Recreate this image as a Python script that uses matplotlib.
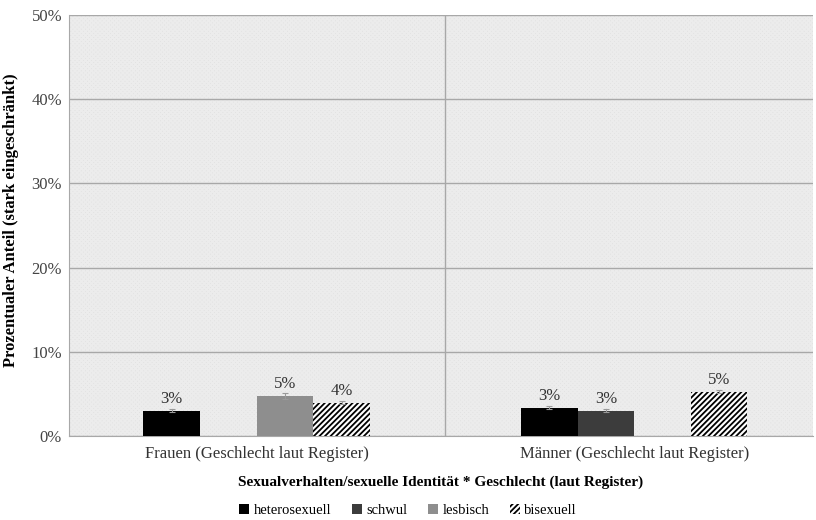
import numpy as np
import matplotlib as mpl
mpl.use('Agg')
from matplotlib import pyplot as plt
from matplotlib.patches import Rectangle

plt.rcParams['font.family'] = ['Liberation Serif', 'DejaVu Serif']
plt.rcParams['hatch.linewidth'] = 1.3

# Daten
gruppen = ['Frauen (Geschlecht laut Register)', 'Männer (Geschlecht laut Register)']
serien = ['heterosexuell', 'schwul', 'lesbisch', 'bisexuell']
werte = {
    'heterosexuell': [3.0, 3.35],
    'schwul': [np.nan, 3.0],
    'lesbisch': [4.75, np.nan],
    'bisexuell': [3.95, 5.25],
}
fehler = {
    'heterosexuell': [0.2, 0.2],
    'schwul': [0, 0.2],
    'lesbisch': [0.3, 0],
    'bisexuell': [0.2, 0.2],
}
labels = {
    'heterosexuell': ['3%', '3%'],
    'schwul': ['', '3%'],
    'lesbisch': ['5%', ''],
    'bisexuell': ['4%', '5%'],
}
farben = {'heterosexuell': '#000000', 'schwul': '#3c3c3c', 'lesbisch': '#8e8e8e', 'bisexuell': 'white'}
hatches = {'heterosexuell': None, 'schwul': None, 'lesbisch': None, 'bisexuell': '//////'}

fig = plt.figure(figsize=(8.16, 5.2), dpi=100)
ax = fig.add_axes([0.0846, 0.1615, 0.9118, 0.8096])
ax.set_facecolor('#e2e2e2')
# feines Hintergrundmuster
bg = Rectangle((0, 0), 1, 1, transform=ax.transAxes, facecolor='none',
               edgecolor='#ececec', hatch='xxxxxxxx', linewidth=0, zorder=0)
ax.add_patch(bg)

x = np.arange(len(gruppen))
w = 0.15
for i, s in enumerate(serien):
    pos = x + (i - 1.5) * w
    ax.bar(pos, werte[s], w, color=farben[s], hatch=hatches[s], edgecolor='black' if s == 'bisexuell' else farben[s],
           linewidth=0, label=s, zorder=3,
           yerr=fehler[s], error_kw=dict(ecolor='#9a9a9a', capsize=2, elinewidth=0.8, capthick=0.8))
    for p, v, l in zip(pos, werte[s], labels[s]):
        if l:
            ax.text(p, v + 0.45, l, ha='center', va='bottom', fontsize=12, color='#333333', zorder=4)

ax.set_ylim(0, 50)
ax.set_xlim(-0.497, 1.474)
ax.set_yticks(np.arange(0, 51, 10))
ax.set_yticklabels(['{0}%'.format(v) for v in range(0, 51, 10)], fontsize=12, color='#444444')
ax.set_xticks(x)
ax.set_xticklabels(gruppen, fontsize=12, color='#333333')
ax.tick_params(axis='x', length=0, pad=7)
ax.tick_params(axis='y', length=0, pad=5)
ax.grid(axis='y', color='#a8a8a8', linewidth=1, zorder=1)
ax.axvline(0.5, color='#a8a8a8', linewidth=1, zorder=1)
for sp in ['top', 'right']:
    ax.spines[sp].set_visible(False)
for sp in ['left', 'bottom']:
    ax.spines[sp].set_color('#a8a8a8')

fig.text(0.0135, 0.577, 'Prozentualer Anteil (stark eingeschränkt)', rotation=90, ha='center', va='center',
         fontsize=12, fontweight='bold')
ax.set_xlabel('Sexualverhalten/sexuelle Identität * Geschlecht (laut Register)', fontsize=11,
              fontweight='bold', labelpad=10)

leg = fig.legend(loc='center', bbox_to_anchor=(0.5, 0.018), ncol=4, frameon=False, fontsize=10.5,
                 handlelength=0.7, handleheight=0.7, handletextpad=0.3, columnspacing=1.4)

plt.savefig('out.png', dpi=100)
